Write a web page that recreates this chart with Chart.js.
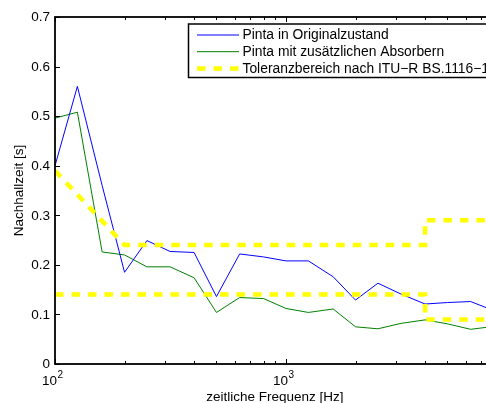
<!DOCTYPE html>
<html lang="de">
<head>
    <meta charset="UTF-8">
    <title>Nachhallzeit Pinta</title>
    <script src="https://cdn.jsdelivr.net/npm/chart.js"></script>
    <style>
        html, body { margin: 0; padding: 0; background: #fff; }
        #wrap { width: 486px; height: 403px; overflow: hidden; position: relative; }
        #wrap canvas { display: block; }
    </style>
</head>
<body>

<div id="wrap">
    <canvas id="rt" width="520" height="403"></canvas>
</div>

<script>
    // Terzbänder in Hz
    const freq = [100, 125, 160, 200, 250, 315, 400, 500, 630, 800, 1000, 1250, 1600, 2000, 2500, 3150, 4000, 5000, 6300, 8000];

    // Nachhallzeit in s
    const rtOriginal = [0.400, 0.560, 0.360, 0.185, 0.249, 0.227, 0.225, 0.136, 0.222, 0.216, 0.208, 0.208, 0.176, 0.129, 0.163, 0.141, 0.121, 0.124, 0.126, 0.107];
    const rtAbsorber = [0.496, 0.508, 0.226, 0.220, 0.196, 0.196, 0.174, 0.104, 0.134, 0.132, 0.112, 0.104, 0.111, 0.075, 0.071, 0.082, 0.089, 0.081, 0.070, 0.076];

    // Toleranzgrenzen nach ITU-R BS.1116-1
    const tolUpperFreq = [100, 200, 4000, 4000, 8000];
    const tolUpper = [0.39, 0.24, 0.24, 0.29, 0.29];
    const tolLowerFreq = [100, 4000, 4000, 8000];
    const tolLower = [0.14, 0.14, 0.09, 0.09];

    const yTicks = [0, 0.1, 0.2, 0.3, 0.4, 0.5, 0.6, 0.7];
    const xMajor = [100, 1000];
    const xMinor = [200, 300, 400, 500, 600, 700, 800, 900, 2000, 3000, 4000, 5000, 6000, 7000, 8000];

    const legendLabels = ['Pinta in Originalzustand', 'Pinta mit zusätzlichen Absorbern', 'Toleranzbereich nach ITU\u2212R BS.1116\u22121'];

    const FONT = '13.5px "Liberation Sans", Arial, sans-serif';
    const LEGEND_FONT = '13.85px "Liberation Sans", Arial, sans-serif';
    const YELLOW = 'rgb(255,255,0)';
    const DASH = [8.5, 8];

    function pts(xs, ys) {
        return xs.map((x, i) => ({ x: x, y: ys[i] }));
    }

    // Achsenrahmen, Ticks, Beschriftung und Legende im Matlab-Stil
    const frame = {
        id: 'frame',
        afterDraw(chart) {
            const ctx = chart.ctx;
            const a = chart.chartArea;
            const xs = chart.scales.x, ys = chart.scales.y;
            ctx.save();

            // Rahmen
            ctx.strokeStyle = '#000';
            ctx.lineWidth = 1.8;
            ctx.strokeRect(a.left, a.top, a.right - a.left, a.bottom - a.top);

            // Ticks nach innen
            ctx.lineWidth = 1;
            ctx.beginPath();
            yTicks.forEach(v => {
                const y = Math.round(ys.getPixelForValue(v)) + 0.5;
                ctx.moveTo(a.left, y); ctx.lineTo(a.left + 5, y);
                ctx.moveTo(a.right, y); ctx.lineTo(a.right - 5, y);
            });
            xMajor.forEach(v => {
                const x = Math.round(xs.getPixelForValue(v)) + 0.5;
                ctx.moveTo(x, a.bottom); ctx.lineTo(x, a.bottom - 5);
                ctx.moveTo(x, a.top); ctx.lineTo(x, a.top + 5);
            });
            xMinor.forEach(v => {
                const x = Math.round(xs.getPixelForValue(v)) + 0.5;
                ctx.moveTo(x, a.bottom); ctx.lineTo(x, a.bottom - 3);
                ctx.moveTo(x, a.top); ctx.lineTo(x, a.top + 3);
            });
            ctx.stroke();

            // y-Beschriftung
            ctx.fillStyle = '#000';
            ctx.font = FONT;
            ctx.textAlign = 'right';
            ctx.textBaseline = 'middle';
            yTicks.forEach(v => {
                ctx.fillText(v === 0 ? '0' : v.toFixed(1), a.left - 5, ys.getPixelForValue(v) + 0.5);
            });

            // x-Beschriftung 10^n
            xMajor.forEach(v => {
                const x = xs.getPixelForValue(v);
                const exp = String(Math.round(Math.log10(v)));
                ctx.font = FONT;
                ctx.textAlign = 'right';
                ctx.textBaseline = 'alphabetic';
                ctx.fillText('10', x + 2, a.bottom + 21);
                ctx.font = '10px "Liberation Sans", Arial, sans-serif';
                ctx.textAlign = 'left';
                ctx.fillText(exp, x + 2.5, a.bottom + 14);
            });

            // Achsentitel
            ctx.font = FONT;
            ctx.textAlign = 'center';
            ctx.textBaseline = 'alphabetic';
            ctx.fillText('zeitliche Frequenz [Hz]', (a.left + a.right) / 2, a.bottom + 36.5);
            ctx.save();
            ctx.translate(19, (a.top + a.bottom) / 2);
            ctx.rotate(-Math.PI / 2);
            ctx.textBaseline = 'middle';
            ctx.fillText('Nachhallzeit [s]', 0, 0);
            ctx.restore();

            // Legende
            const box = { left: 188.5, top: 24, right: 492, bottom: 77.5 };
            ctx.fillStyle = '#fff';
            ctx.fillRect(box.left, box.top, box.right - box.left, box.bottom - box.top);
            ctx.strokeStyle = '#000';
            ctx.lineWidth = 1.5;
            ctx.strokeRect(box.left, box.top, box.right - box.left, box.bottom - box.top);

            const rows = [35, 51.7, 68.4];
            const sets = [chart.data.datasets[0], chart.data.datasets[1], chart.data.datasets[2]];
            rows.forEach((ry, i) => {
                const ds = sets[i];
                ctx.strokeStyle = ds.borderColor;
                ctx.lineWidth = ds.borderWidth;
                ctx.setLineDash(ds.borderDash || []);
                ctx.beginPath();
                ctx.moveTo(197, ry); ctx.lineTo(239, ry);
                ctx.stroke();
                ctx.setLineDash([]);
                ctx.fillStyle = '#000';
                ctx.font = LEGEND_FONT;
                ctx.textAlign = 'left';
                ctx.textBaseline = 'middle';
                ctx.fillText(legendLabels[i], 242.5, ry + 0.5);
            });
            ctx.restore();
        }
    };

    new Chart(document.getElementById('rt'), {
        type: 'line',
        data: {
            datasets: [{
                label: legendLabels[0],
                data: pts(freq, rtOriginal),
                borderColor: 'rgb(0,0,255)',
                borderWidth: 1,
                pointRadius: 0,
                order: 3
            }, {
                label: legendLabels[1],
                data: pts(freq, rtAbsorber),
                borderColor: 'rgb(0,128,0)',
                borderWidth: 1,
                pointRadius: 0,
                order: 4
            }, {
                label: legendLabels[2],
                data: pts(tolUpperFreq, tolUpper),
                borderColor: YELLOW,
                borderWidth: 4.5,
                borderDash: DASH,
                borderCapStyle: 'butt',
                pointRadius: 0,
                order: 1
            }, {
                label: '',
                data: pts(tolLowerFreq, tolLower),
                borderColor: YELLOW,
                borderWidth: 4.5,
                borderDash: DASH,
                borderCapStyle: 'butt',
                pointRadius: 0,
                order: 2
            }]
        },
        options: {
            responsive: false,
            devicePixelRatio: 1,
            animation: false,
            layout: { padding: { left: 55, top: 17, right: 25.4, bottom: 39 } },
            scales: {
                x: { type: 'logarithmic', min: 100, max: 8000, display: false },
                y: { type: 'linear', min: 0, max: 0.7, display: false }
            },
            plugins: {
                legend: { display: false },
                tooltip: { enabled: false }
            }
        },
        plugins: [frame]
    });
</script>

</body>
</html>
